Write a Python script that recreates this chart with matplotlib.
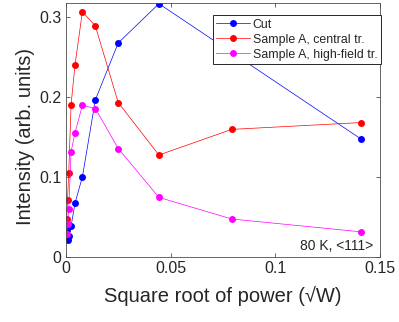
import matplotlib
matplotlib.use("Agg")
import matplotlib.pyplot as plt

# ── Data ─────────────────────────────────────────────────────────────────────
x_cut = [0.00044, 0.0008, 0.0014, 0.0025, 0.0044, 0.0079, 0.0141, 0.025, 0.0444, 0.1408]
y_cut = [0.033, 0.021, 0.026, 0.038, 0.067, 0.0996, 0.196, 0.267, 0.316, 0.147]

x_samp = [0.00044, 0.0008, 0.0014, 0.0025, 0.0044, 0.0079, 0.0141, 0.025, 0.0444, 0.0792, 0.1408]
y_central = [0.0475, 0.071, 0.105, 0.190, 0.240, 0.306, 0.288, 0.1925, 0.127, 0.159, 0.1675]
y_highfield = [0.028, 0.0405, 0.060, 0.131, 0.155, 0.189, 0.185, 0.135, 0.074, 0.047, 0.031]

labels = ["Cut", "Sample A, central tr.", "Sample A, high-field tr."]
colors = ["#0000ff", "#ff0000", "#ff00ff"]

xticks = [0, 0.05, 0.1, 0.15]
xticklabels = ["0", "0.05", "0.1", "0.15"]
yticks = [0, 0.1, 0.2, 0.3]
yticklabels = ["0", "0.1", "0.2", "0.3"]

# ── Style ────────────────────────────────────────────────────────────────────
plt.rcParams["font.family"] = ["Liberation Sans", "DejaVu Sans"]
TXT = "#262626"
AX = "#4d4d4d"

fig = plt.figure(figsize=(3.99, 3.22), dpi=100)
ax = fig.add_axes([0.165, 0.203, 0.788, 0.788])

series = [(x_cut, y_cut), (x_samp, y_central), (x_samp, y_highfield)]
for (xs, ys), lab, c in zip(series, labels, colors):
    ax.plot(xs, ys, "-o", color=c, label=lab, linewidth=0.5,
            markersize=5, markeredgewidth=0)

ax.set_xlim(0, 0.15)
ax.set_ylim(0, 0.317)
ax.set_xticks(xticks)
ax.set_xticklabels(xticklabels)
ax.set_yticks(yticks)
ax.set_yticklabels(yticklabels)
ax.tick_params(direction="in", top=True, right=True, labelsize=11.5,
               colors=AX, labelcolor=TXT, length=3, width=0.6, pad=3)
for s in ax.spines.values():
    s.set_color(AX)
    s.set_linewidth(0.6)

ax.set_xlabel("Square root of power (\u221aW)", fontsize=14.5, color=TXT, labelpad=7)
ax.set_ylabel("Intensity (arb. units)", fontsize=14.5, color=TXT, labelpad=3, y=0.475)

leg = ax.legend(loc="upper right", bbox_to_anchor=(1.003, 0.953), fontsize=8.9,
                frameon=True, fancybox=False, edgecolor="#262626", framealpha=1,
                borderpad=0.3, labelspacing=0.25, handlelength=2.7,
                handletextpad=0.25, borderaxespad=0)
leg.get_frame().set_linewidth(0.7)
for t in leg.get_texts():
    t.set_color(TXT)

ax.text(0.978, 0.015, "80 K, <111>", transform=ax.transAxes, ha="right", va="bottom",
        fontsize=10, color=TXT)

fig.savefig("out.png", dpi=100)
